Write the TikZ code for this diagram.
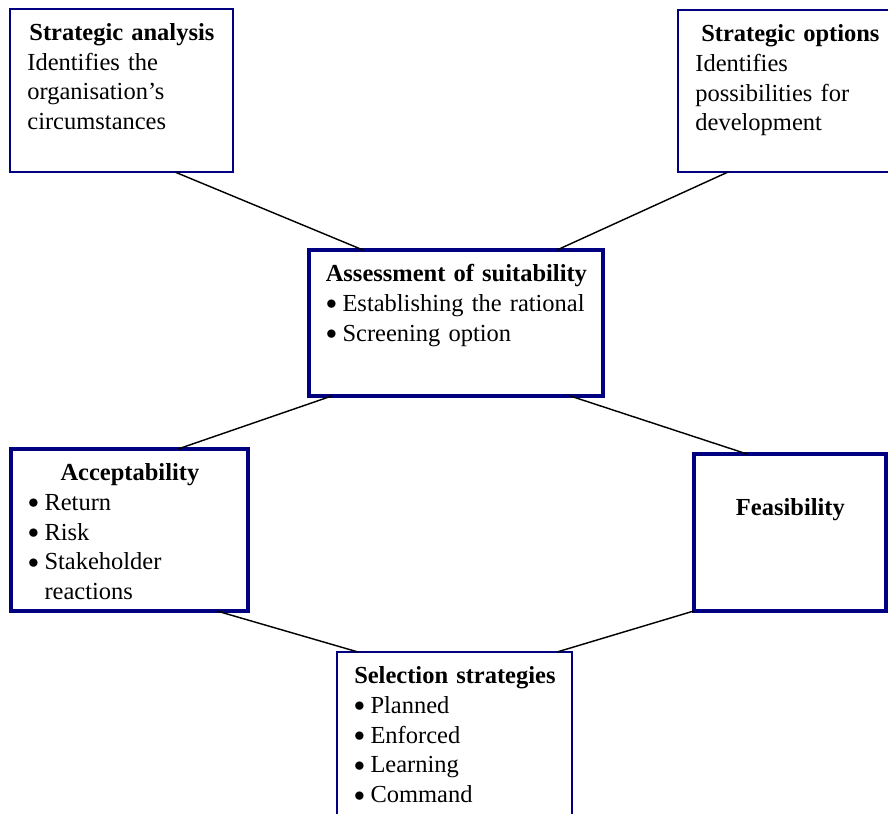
\documentclass[tikz,border=0pt]{standalone}
\usepackage{fontspec}
\setmainfont{Liberation Serif}
\usetikzlibrary{calc}

\definecolor{boxnavy}{RGB}{0,0,128}
\setlength{\parindent}{0pt}
\newcommand{\bitem}[1]{\makebox[7.4pt][l]{\hspace{-0.6pt}\raisebox{0.6pt}{\scalebox{0.88}{$\bullet$}}}#1}
\newcommand{\bcont}{\hspace*{7.4pt}}
\newcommand{\bhead}[1]{\makebox[\hsize]{\bfseries\rule{0pt}{10pt}#1}\par}

\begin{document}
\begin{tikzpicture}[x=0.49pt,y=-0.49pt,
        thinbox/.style={draw=boxnavy,line width=0.7pt,outer sep=0pt,inner sep=0pt,anchor=north west},
        thickbox/.style={thinbox,line width=2.25pt},
        txt/.style={inner sep=0pt,anchor=north west,align=left,
            font=\fontsize{12pt}{14.6pt}\selectfont},
        link/.style={line width=0.7pt}]
        \clip (0,0) rectangle (888,814);

        \node[thinbox,minimum width=109.3pt,minimum height=79.9pt] (sa) at (10,9) {};
        \node[thinbox,minimum width=109.8pt,minimum height=79.4pt] (so) at (678,10) {};
        \node[thickbox,minimum width=144.1pt,minimum height=71.5pt] (as) at (309,250) {};
        \node[thickbox,minimum width=116.1pt,minimum height=79.4pt] (acc) at (11,449) {};
        \node[thickbox,minimum width=94.1pt,minimum height=76.9pt] (fea) at (694,454) {};
        \node[thinbox,minimum width=115.2pt,minimum height=88.2pt] (sel) at (337,652) {};

        \node[txt,text width=92.6pt] (sa-t) at ($(sa.north west)+(17,10.6)$)
            {\bhead{Strategic analysis}Identifies the\\organisation’s\\circumstances};
        \node[txt,text width=93.1pt] (so-t) at ($(so.north west)+(17,10.6)$)
            {\bhead{Strategic options}Identifies\\possibilities for\\development};
        \node[txt,text width=126.4pt] (as-t) at ($(as.north west)+(18,10.6)$)
            {\bhead{Assessment of suitability}\bitem{Establishing the rational}\\\bitem{Screening option}};
        \node[txt,text width=98.5pt] (acc-t) at ($(acc.north west)+(18,10.6)$)
            {\bhead{Acceptability}\bitem{Return}\\\bitem{Risk}\\\bitem{Stakeholder}\\\bcont reactions};
        \node[txt,text width=77.4pt] (fea-t) at ($(fea.north west)+(17,40.4)$)
            {\bhead{Feasibility}};
        \node[txt,text width=97.5pt] (sel-t) at ($(sel.north west)+(18,10.6)$)
            {\bhead{Selection strategies}\bitem{Planned}\\\bitem{Enforced}\\\bitem{Learning}\\\bitem{Command}};

        \draw[link] ($(sa.south west)+(165,0)$) -- ($(as.north west)+(54,0)$);
        \draw[link] ($(so.south west)+(50,0)$) -- ($(as.north west)+(248,0)$);
        \draw[link] ($(as.south west)+(23,0)$) -- ($(acc.north west)+(167,0)$);
        \draw[link] ($(as.south west)+(261,0)$) -- ($(fea.north west)+(53,0)$);
        \draw[link] ($(acc.south west)+(206,0)$) -- ($(sel.north west)+(21,0)$);
        \draw[link] (fea.south west) -- ($(sel.north west)+(220,0)$);
\end{tikzpicture}
\end{document}
